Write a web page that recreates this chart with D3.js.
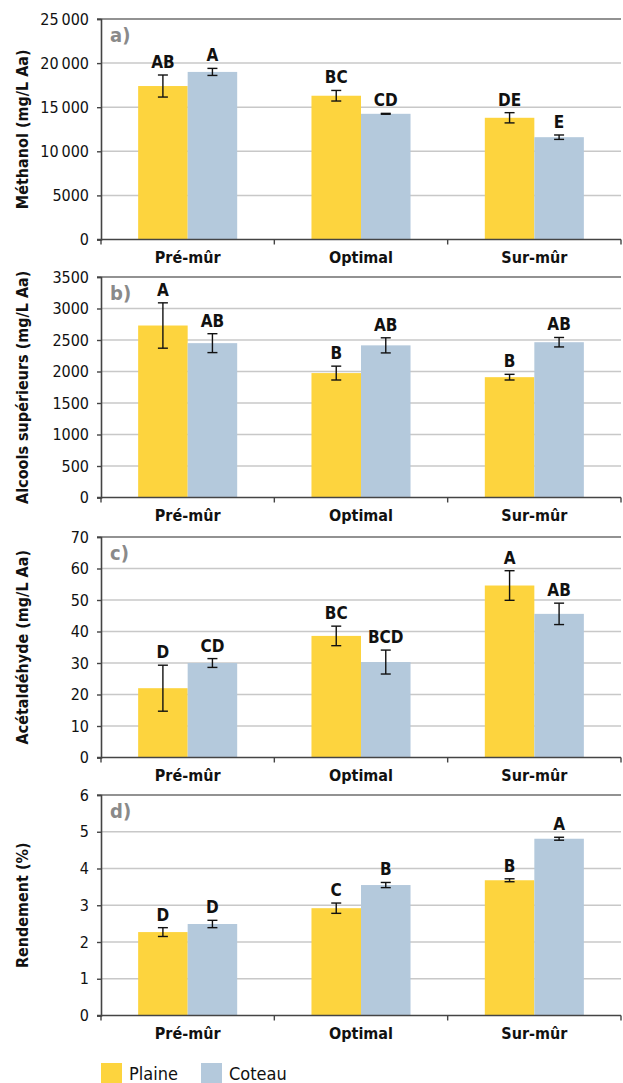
<!DOCTYPE html>
<html>
<head>
<meta charset="utf-8">
<script src="https://cdn.jsdelivr.net/npm/d3@7"></script>
<style>
	body { margin: 0; background: #fff; }
	svg { display: block; }
	text { font-family: "Liberation Sans Narrow", "DejaVu Sans Condensed", "Open Sans", sans-serif; }
</style>
</head>
<body>
<div id="chart"></div>
<script>
	var categories = ['Pré-mûr', 'Optimal', 'Sur-mûr'];
	var seriesNames = ['Plaine', 'Coteau'];
	var colors = ['#fdd43e', '#b4c9dc'];

	// a) méthanol
	var methanolPlaine = [17400, 16300, 13800];
	var methanolCoteau = [19000, 14250, 11600];
	var methanolErrPlaine = [1250, 600, 580];
	var methanolErrCoteau = [400, 50, 250];
	var methanolLettersPlaine = ['AB', 'BC', 'DE'];
	var methanolLettersCoteau = ['A', 'CD', 'E'];
	var methanolTicks = [0, 5000, 10000, 15000, 20000, 25000];

	// b) alcools supérieurs
	var alcoolsPlaine = [2730, 1975, 1910];
	var alcoolsCoteau = [2450, 2415, 2465];
	var alcoolsErrPlaine = [360, 110, 45];
	var alcoolsErrCoteau = [150, 120, 75];
	var alcoolsLettersPlaine = ['A', 'B', 'B'];
	var alcoolsLettersCoteau = ['AB', 'AB', 'AB'];
	var alcoolsTicks = [0, 500, 1000, 1500, 2000, 2500, 3000, 3500];

	// c) acétaldéhyde
	var acetPlaine = [22, 38.6, 54.6];
	var acetCoteau = [30, 30.3, 45.6];
	var acetErrPlaine = [7.3, 3.1, 4.7];
	var acetErrCoteau = [1.4, 3.8, 3.4];
	var acetLettersPlaine = ['D', 'BC', 'A'];
	var acetLettersCoteau = ['CD', 'BCD', 'AB'];
	var acetTicks = [0, 10, 20, 30, 40, 50, 60, 70];

	// d) rendement
	var rendPlaine = [2.27, 2.92, 3.68];
	var rendCoteau = [2.49, 3.55, 4.81];
	var rendErrPlaine = [0.12, 0.14, 0.04];
	var rendErrCoteau = [0.1, 0.07, 0.04];
	var rendLettersPlaine = ['D', 'C', 'B'];
	var rendLettersCoteau = ['D', 'B', 'A'];
	var rendTicks = [0, 1, 2, 3, 4, 5, 6];

	var panels = [
		{ tag: 'a)', title: 'Méthanol (mg/L Aa)', values: [methanolPlaine, methanolCoteau],
			errors: [methanolErrPlaine, methanolErrCoteau], letters: [methanolLettersPlaine, methanolLettersCoteau], ticks: methanolTicks },
		{ tag: 'b)', title: 'Alcools supérieurs (mg/L Aa)', values: [alcoolsPlaine, alcoolsCoteau],
			errors: [alcoolsErrPlaine, alcoolsErrCoteau], letters: [alcoolsLettersPlaine, alcoolsLettersCoteau], ticks: alcoolsTicks },
		{ tag: 'c)', title: 'Acétaldéhyde (mg/L Aa)', values: [acetPlaine, acetCoteau],
			errors: [acetErrPlaine, acetErrCoteau], letters: [acetLettersPlaine, acetLettersCoteau], ticks: acetTicks },
		{ tag: 'd)', title: 'Rendement (%)', values: [rendPlaine, rendCoteau],
			errors: [rendErrPlaine, rendErrCoteau], letters: [rendLettersPlaine, rendLettersCoteau], ticks: rendTicks }
	];

	var fullWidth = 623;
	var fullHeight = 1083;
	var left = 101, right = 621;
	var panelTops = [19, 277, 537, 795];
	var plotHeight = 220.5;

	var svg = d3.select('#chart')
		.append('svg')
		.attr('width', fullWidth)
		.attr('height', fullHeight);

	var x0 = d3.scaleBand().domain(categories).range([left, right]).padding(0);
	var x1 = d3.scaleBand().domain(seriesNames).range([0, x0.bandwidth()])
		.paddingInner(0).paddingOuter(0.75);

	function fmt(d) {
		// thin space separator only for five digit numbers
		if (d >= 10000) return d3.format(',')(d).replace(',', '\u2009');
		return String(d);
	}

	panels.forEach(function(p, pi) {
		var top = panelTops[pi];
		var y = d3.scaleLinear()
			.domain([0, d3.max(p.ticks)])
			.range([top + plotHeight, top]);

		var g = svg.append('g');

		//grid
		g.selectAll('.grid')
			.data(p.ticks.filter(function(t) { return t > 0; }))
			.enter().append('line')
			.attr('x1', function(t) { return t === d3.max(p.ticks) ? left - 4 : left; })
			.attr('x2', right)
			.attr('y1', function(t) { return y(t); })
			.attr('y2', function(t) { return y(t); })
			.attr('stroke', function(t) { return t === d3.max(p.ticks) ? '#6e6e6e' : '#c8c8c8'; })
			.attr('stroke-width', function(t) { return t === d3.max(p.ticks) ? 1.6 : 1.5; });

		//bars
		seriesNames.forEach(function(s, si) {
			var vals = p.values[si];
			var errs = p.errors[si];
			var lets = p.letters[si];
			var cx = function(i) { return x0(categories[i]) + x1(s) + x1.bandwidth() / 2; };

			g.selectAll('.bar-' + si)
				.data(vals)
				.enter().append('rect')
				.attr('x', function(d, i) { return x0(categories[i]) + x1(s); })
				.attr('y', function(d) { return y(d); })
				.attr('width', x1.bandwidth())
				.attr('height', function(d) { return y(0) - y(d); })
				.attr('fill', colors[si]);

			var eb = g.selectAll('.err-' + si)
				.data(vals)
				.enter().append('g')
				.attr('stroke', '#111')
				.attr('stroke-width', 1.4);
			eb.append('line')
				.attr('x1', function(d, i) { return cx(i); })
				.attr('x2', function(d, i) { return cx(i); })
				.attr('y1', function(d, i) { return y(d + errs[i]); })
				.attr('y2', function(d, i) { return y(d - errs[i]); });
			[1, -1].forEach(function(sign) {
				eb.append('line')
					.attr('x1', function(d, i) { return cx(i) - 5; })
					.attr('x2', function(d, i) { return cx(i) + 5; })
					.attr('y1', function(d, i) { return y(d + sign * errs[i]); })
					.attr('y2', function(d, i) { return y(d + sign * errs[i]); });
			});

			g.selectAll('.let-' + si)
				.data(vals)
				.enter().append('text')
				.attr('x', function(d, i) { return cx(i); })
				.attr('y', function(d, i) { return y(d + errs[i]) - 7; })
				.attr('text-anchor', 'middle')
				.attr('font-size', 17)
				.attr('font-weight', 'bold')
				.attr('fill', '#111')
				.text(function(d, i) { return lets[i]; });
		});

		//y axis
		var yAxis = d3.axisLeft(y).tickValues(p.ticks).tickFormat(fmt).tickSize(4).tickPadding(8);
		var ya = g.append('g')
			.attr('transform', 'translate(' + left + ',0)')
			.call(yAxis);
		ya.select('.domain').attr('stroke', '#444').attr('stroke-width', 1.6);
		ya.selectAll('.tick line').attr('stroke', '#444').attr('stroke-width', 1.4);
		ya.selectAll('.tick text').attr('font-size', 16).attr('fill', '#111')
			.style('font-family', '"Liberation Sans Narrow", "DejaVu Sans Condensed", sans-serif');

		//x axis
		var xa = g.append('g')
			.attr('transform', 'translate(0,' + y(0) + ')');
		xa.append('line')
			.attr('x1', left - 4).attr('x2', right)
			.attr('stroke', '#444').attr('stroke-width', 1.6);
		xa.selectAll('.xtick')
			.data(categories.concat(['end']))
			.enter().append('line')
			.attr('x1', function(d, i) { return i < categories.length ? x0(d) : right; })
			.attr('x2', function(d, i) { return i < categories.length ? x0(d) : right; })
			.attr('y1', 0).attr('y2', 5)
			.attr('stroke', '#444').attr('stroke-width', 1.4);
		xa.selectAll('.xlab')
			.data(categories)
			.enter().append('text')
			.attr('x', function(d) { return x0(d) + x0.bandwidth() / 2; })
			.attr('y', 23)
			.attr('text-anchor', 'middle')
			.attr('font-size', 16)
			.attr('font-weight', 'bold')
			.attr('fill', '#111')
			.text(function(d) { return d; });

		//panel tag
		g.append('text')
			.attr('x', left + 9)
			.attr('y', top + 23)
			.attr('font-size', 20)
			.attr('font-weight', 'bold')
			.attr('fill', '#8a8a8a')
			.text(p.tag);

		//y title
		g.append('text')
			.attr('transform', 'translate(28,' + (top + plotHeight / 2) + ') rotate(-90)')
			.attr('text-anchor', 'middle')
			.attr('font-size', 16)
			.attr('font-weight', 'bold')
			.attr('fill', '#111')
			.text(p.title);
	});

	//legend
	var legendX = [101, 201];
	var legend = svg.append('g');
	seriesNames.forEach(function(s, i) {
		legend.append('rect')
			.attr('x', legendX[i]).attr('y', 1063)
			.attr('width', 21).attr('height', 20)
			.attr('fill', colors[i]);
		legend.append('text')
			.attr('x', legendX[i] + 28).attr('y', 1080)
			.attr('font-size', 18)
			.attr('fill', '#111')
			.text(s);
	});
</script>
</body>
</html>
